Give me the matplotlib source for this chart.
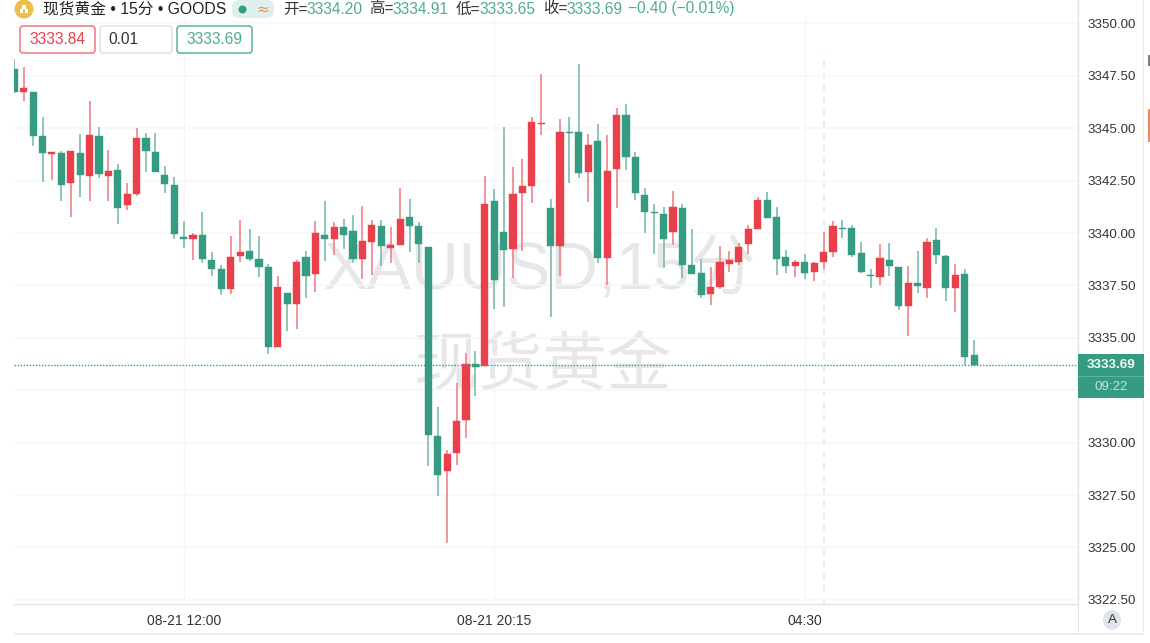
"""Spot gold 15 minute candlestick chart, TradingView style."""

import matplotlib

matplotlib.use("Agg")
import matplotlib.pyplot as plt
from matplotlib.patches import Ellipse, FancyBboxPatch, Rectangle

W, H = 1150, 643
plt.rcParams["font.family"] = ["Liberation Sans", "Noto Sans CJK SC", "DejaVu Sans"]

UP = "#e9404c"
DOWN = "#359b82"
UP_WICK = "#ef7d86"
DOWN_WICK = "#74b9a8"
GRID = "#f5f6f9"
BORDER = "#e0e3eb"
TEXT = "#333333"
GREEN_TEXT = "#4fab95"

# fmt: off
opens = [
    3347.83, 3346.75, 3346.72, 3344.63, 3343.77, 3343.81, 3342.39, 3343.81, 3342.74, 3344.65,
    3342.72, 3343.00, 3341.34, 3341.88, 3344.52, 3343.88, 3342.77, 3342.29, 3339.83, 3339.73,
    3339.92, 3338.70, 3338.29, 3337.35, 3338.92, 3339.16, 3338.76, 3338.37, 3334.57, 3337.13,
    3336.63, 3338.86, 3338.03, 3339.91, 3339.73, 3340.28, 3340.09, 3338.78, 3339.59, 3340.34,
    3339.30, 3339.42, 3340.78, 3340.34, 3339.34, 3330.31, 3328.65, 3329.49, 3331.07, 3333.74,
    3333.67, 3341.52, 3340.05, 3339.26, 3341.90, 3342.25, 3345.19, 3341.21, 3339.40, 3344.84,
    3344.82, 3342.90, 3344.38, 3338.80, 3343.06, 3345.65, 3343.62, 3341.80, 3340.99, 3340.91,
    3340.05, 3341.21, 3338.49, 3338.08, 3337.09, 3337.41, 3338.54, 3338.64, 3339.47, 3340.18,
    3341.58, 3340.78, 3338.85, 3338.45, 3338.64, 3338.16, 3338.61, 3339.11, 3340.24, 3340.26,
    3339.05, 3338.02, 3337.92, 3338.72, 3338.38, 3336.54, 3337.62, 3337.38, 3339.67, 3338.89,
    3337.38, 3338.05, 3334.20,
]
highs = [
    3348.31, 3347.91, 3346.72, 3345.52, 3343.88, 3343.93, 3343.92, 3344.71, 3346.29, 3345.08,
    3343.95, 3343.28, 3342.40, 3345.00, 3344.76, 3344.79, 3343.19, 3342.69, 3340.56, 3339.99,
    3340.99, 3339.10, 3338.48, 3339.86, 3340.63, 3340.21, 3339.86, 3338.51, 3337.94, 3337.13,
    3338.70, 3339.16, 3340.59, 3341.55, 3340.52, 3340.67, 3340.88, 3341.31, 3340.64, 3340.63,
    3340.29, 3342.17, 3341.63, 3340.52, 3339.34, 3331.69, 3329.65, 3332.83, 3334.27, 3334.39,
    3342.72, 3342.12, 3345.08, 3343.17, 3343.52, 3345.55, 3347.58, 3341.61, 3345.44, 3345.54,
    3348.07, 3344.73, 3345.19, 3344.68, 3345.95, 3346.16, 3343.88, 3342.17, 3341.39, 3341.23,
    3342.01, 3341.39, 3340.21, 3338.78, 3338.40, 3339.38, 3339.15, 3339.54, 3340.39, 3341.71,
    3341.98, 3341.23, 3339.18, 3338.72, 3338.99, 3338.61, 3340.07, 3340.56, 3340.63, 3340.37,
    3339.56, 3338.27, 3339.47, 3339.53, 3338.38, 3338.43, 3339.13, 3339.75, 3340.23, 3338.95,
    3338.53, 3338.27, 3334.91,
]
lows = [
    3346.68, 3346.32, 3344.17, 3342.45, 3342.52, 3341.52, 3340.75, 3341.74, 3341.55, 3342.64,
    3341.55, 3340.45, 3341.09, 3341.76, 3342.93, 3342.90, 3341.93, 3339.72, 3339.29, 3338.70,
    3338.59, 3337.95, 3337.03, 3337.11, 3338.64, 3338.65, 3337.91, 3334.25, 3334.57, 3335.34,
    3335.42, 3336.92, 3337.20, 3338.67, 3338.97, 3339.26, 3338.59, 3337.80, 3338.02, 3338.45,
    3338.57, 3339.42, 3339.11, 3338.56, 3328.89, 3327.47, 3325.20, 3328.92, 3330.21, 3332.23,
    3333.67, 3336.36, 3336.47, 3337.87, 3339.16, 3341.42, 3344.68, 3336.01, 3337.95, 3342.40,
    3342.64, 3341.50, 3338.59, 3337.52, 3341.20, 3343.00, 3341.58, 3339.99, 3339.00, 3338.32,
    3339.43, 3337.87, 3338.06, 3336.92, 3336.58, 3337.32, 3338.16, 3338.48, 3339.00, 3340.18,
    3340.74, 3337.99, 3338.08, 3337.92, 3337.82, 3337.73, 3338.30, 3338.85, 3339.78, 3338.87,
    3338.11, 3337.40, 3337.51, 3337.97, 3336.33, 3335.08, 3337.13, 3336.92, 3338.54, 3336.76,
    3336.24, 3333.71, 3333.65,
]
closes = [
    3346.72, 3346.94, 3344.65, 3343.84, 3343.88, 3342.29, 3343.92, 3342.79, 3344.68, 3342.82,
    3342.98, 3341.18, 3341.85, 3344.55, 3343.93, 3342.90, 3342.33, 3339.94, 3339.73, 3339.91,
    3338.76, 3338.27, 3337.35, 3338.87, 3339.10, 3338.78, 3338.40, 3334.57, 3337.43, 3336.63,
    3338.64, 3337.97, 3340.02, 3339.70, 3340.28, 3339.92, 3338.78, 3339.64, 3340.40, 3339.40,
    3339.42, 3340.69, 3340.35, 3339.47, 3330.37, 3328.44, 3329.46, 3331.05, 3333.74, 3333.63,
    3341.40, 3337.76, 3339.19, 3341.87, 3342.25, 3345.29, 3345.24, 3339.40, 3344.81, 3344.78,
    3342.85, 3344.20, 3338.81, 3342.96, 3345.62, 3343.63, 3341.90, 3340.99, 3340.95, 3339.73,
    3341.23, 3338.46, 3338.06, 3337.05, 3337.41, 3338.62, 3338.72, 3339.35, 3340.20, 3341.58,
    3340.74, 3338.76, 3338.45, 3338.61, 3338.11, 3338.56, 3339.11, 3340.32, 3340.20, 3338.97,
    3338.14, 3337.97, 3338.80, 3338.45, 3336.54, 3337.62, 3337.48, 3339.56, 3338.95, 3337.38,
    3338.00, 3334.10, 3333.69,
]
# fmt: on

price_ticks = [3350.0, 3347.5, 3345.0, 3342.5, 3340.0, 3337.5, 3335.0, 3332.5, 3330.0, 3327.5, 3325.0, 3322.5]
hidden_price_label = 3332.5  # sits under the last price tag
time_ticks = [18, 51, 84]
time_labels = ["08-21 12:00", "08-21 20:15", "04:30"]
crosshair_bar = 86
last_price = 3333.69
countdown = "09:22"
ohlc_header = [
    ("开=", 283, TEXT), ("3334.20", 306, GREEN_TEXT),
    ("高=", 369, TEXT), ("3334.91", 392, GREEN_TEXT),
    ("低=", 456, TEXT), ("3333.65", 479, GREEN_TEXT),
    ("收=", 543, TEXT), ("3333.69", 566, GREEN_TEXT),
    ("−0.40 (−0.01%)", 628, GREEN_TEXT),
]


def fx(x):
    return x / W


def fy(y):
    return 1 - y / H


fig = plt.figure(figsize=(W / 100, H / 100), dpi=100, facecolor="white")
ax = fig.add_axes([fx(14), fy(604), fx(1078) - fx(14), fy(0) - fy(604)])
ax.patch.set_alpha(0)
ax.set_xlim(-0.03, 113.04)
ax.set_ylim(3322.30, 3351.12)

# grid
ax.set_yticks(price_ticks)
ax.set_yticklabels(["" if p == hidden_price_label else f"{p:.2f}" for p in price_ticks],
                   fontsize=9.6, color=TEXT, ha="center")
ax.yaxis.tick_right()
ax.tick_params(axis="y", length=0, pad=24.2)
ax.grid(axis="y", color=GRID, linewidth=1.1, zorder=0)
ax.set_xticks(time_ticks)
ax.set_xticklabels(time_labels, fontsize=10, color=TEXT)
ax.tick_params(axis="x", length=0, pad=7.5)
ax.vlines(time_ticks, 3322.30, 3350.3, color=GRID, linewidth=0.9, zorder=0)
ax.vlines(crosshair_bar, 3322.30, 3348.6, color="#e3e5ea", linewidth=1.1,
          linestyles=(0, (4, 4)), zorder=1)
for side in ("top", "left"):
    ax.spines[side].set_visible(False)
for side in ("right", "bottom"):
    ax.spines[side].set_color(BORDER)
    ax.spines[side].set_linewidth(1.0)

# watermark
ax.text(fx(540), fy(272), "XAUUSD,15分", transform=fig.transFigure, fontsize=47.5,
        color="#e7e7ea", ha="center", va="center", zorder=0.5)
ax.text(fx(543), fy(367), "现货黄金", transform=fig.transFigure, fontsize=46.5,
        color="#e7e7ea", ha="center", va="center", zorder=0.5,
        family=["Noto Sans CJK SC", "DejaVu Sans"])

# candles
for i, (o, h, l, c) in enumerate(zip(opens, highs, lows, closes)):
    is_up = c >= o
    ax.vlines(i, l, h, color=UP_WICK if is_up else DOWN_WICK, linewidth=1.15, zorder=2)
    ax.bar(i, abs(c - o), bottom=min(o, c), width=0.76, color=UP if is_up else DOWN,
           edgecolor=UP if is_up else DOWN, linewidth=0.3, zorder=3)

ax.axhline(last_price, color=DOWN, linewidth=1.0, linestyle=(0, (1, 1.2)), zorder=4)


def add_rect(x0, y0, x1, y1, **kw):
    fig.add_artist(Rectangle((fx(x0), fy(y1)), fx(x1) - fx(x0), fy(y0) - fy(y1),
                             transform=fig.transFigure, **kw))


def px_text(x, y, s, **kw):
    kw.setdefault("va", "center")
    kw.setdefault("fontsize", 9.6)
    kw.setdefault("color", TEXT)
    fig.text(fx(x), fy(y), s, **kw)


# header strip
fig.add_artist(Ellipse((fx(24), fy(9)), 19 / W, 19 / H, transform=fig.transFigure,
                       fc="#e8bf4d", ec="none"))
for bx, by in ((21.5, 11), (26.5, 11), (24, 7)):
    add_rect(bx - 2, by - 1.5, bx + 2, by + 1.5, fc="white", ec="none")
px_text(43, 9, "现货黄金 • 15分 • GOODS", fontsize=11.3, color="#222222")
fig.add_artist(FancyBboxPatch((232, H - 18), 42, 18, boxstyle="round,pad=0,rounding_size=7",
                              transform=None, fc="#dff0ec", ec="none"))
fig.add_artist(Ellipse((fx(242.5), fy(9.5)), 8 / W, 8 / H, transform=fig.transFigure,
                       fc=DOWN, ec="none"))
px_text(263, 9.5, "≈", fontsize=11, color="#ef8a62", ha="center",
        family=["DejaVu Sans"])
for s, x, col in ohlc_header:
    px_text(x, 9, s, fontsize=11.2, color=col)

# order boxes
for x0, x1, edge in ((20, 95, "#ef6a74"), (100, 172, "#dcdde6"), (177, 252, "#4fa893")):
    fig.add_artist(FancyBboxPatch((x0, H - 53), x1 - x0, 27, boxstyle="round,pad=0,rounding_size=3",
                                  transform=None, fc="white", ec=edge, lw=1.0))
px_text(57.5, 39.5, "3333.84", fontsize=11.2, color=UP, ha="center")
px_text(108, 39.5, "0.01", fontsize=11.2, color="#333333")
px_text(214, 39.5, "3333.69", fontsize=11.2, color=GREEN_TEXT, ha="center")

# price axis chrome
add_rect(1078, 604, 1078.8, 634, fc=BORDER, ec="none")
add_rect(1143, 0, 1144, 634, fc="#e8eaf0", ec="none")
add_rect(14, 633.2, 1144, 635, fc="#eceef3", ec="none")
add_rect(1078, 354, 1144, 398, fc=DOWN, ec="none")
add_rect(1078, 376.4, 1144, 377.2, fc="#5fb09c", ec="none")
px_text(1111, 365.5, f"{last_price:.2f}", fontsize=9.6, color="#f2faf8", ha="center",
        fontweight="bold")
px_text(1111, 387.5, countdown, fontsize=9.6, color="#c4e2da", ha="center")
fig.add_artist(Ellipse((fx(1112), fy(620)), 18 / W, 20 / H, transform=fig.transFigure,
                       fc="#e0e3eb", ec="none"))
px_text(1112, 620, "A", fontsize=9.6, color=TEXT, ha="center")

# side strip marks at the right edge
add_rect(1148, 55, 1150, 66, fc="#7c7f88", ec="none")
add_rect(1148, 109, 1150, 142, fc="#f08a5d", ec="none")

fig.savefig("out.png", dpi=100)
